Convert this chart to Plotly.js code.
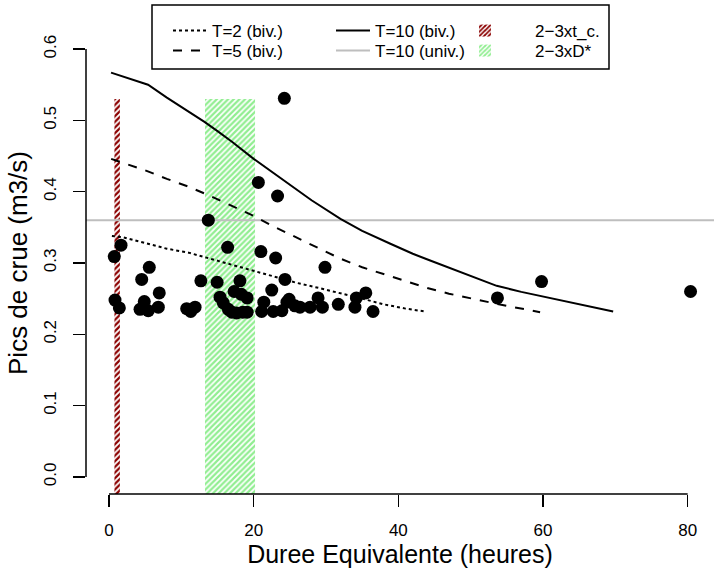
<!DOCTYPE html>
<html>
<head>
<meta charset="utf-8">
<script src="https://cdn.plot.ly/plotly-3.0.1.min.js"></script>
<style>html,body{margin:0;padding:0;background:#fff;}#chart{width:724px;height:573px;}</style>
</head>
<body>
<div id="chart"></div>
<script>
// ---- data ----
var dureeObs = [0.73,1.66,0.83,1.43,4.52,5.57,6.95,4.88,4.29,5.43,6.82,10.74,11.9,11.3,
  13.73,16.4,12.7,14.95,18.1,17.3,18.3,19.1,15.35,15.8,16.5,17.0,17.65,18.5,19.1,
  20.65,23.3,24.24,21.0,23.04,22.5,24.33,24.6,21.4,21.1,22.7,23.9,24.9,25.7,
  26.4,27.8,28.9,29.5,29.86,31.7,34.0,34.2,35.5,36.5,
  53.7,59.8,80.4];
var picsObs = [0.309,0.325,0.248,0.237,0.277,0.294,0.258,0.246,0.235,0.233,0.238,0.236,0.238,0.232,
  0.360,0.322,0.275,0.273,0.275,0.260,0.256,0.251,0.252,0.244,0.235,0.231,0.230,0.231,0.231,
  0.413,0.394,0.531,0.316,0.307,0.262,0.277,0.245,0.245,0.232,0.232,0.233,0.249,0.240,
  0.238,0.238,0.251,0.238,0.294,0.242,0.238,0.251,0.258,0.232,
  0.251,0.274,0.260];

var t2Duree = [0.4,2,5,8,11,14,17,20,23,26,29,32,35,38,41,43.7];
var t2Pics  = [0.338,0.336,0.328,0.320,0.3145,0.306,0.297,0.289,0.280,0.272,0.265,0.258,0.250,0.242,0.236,0.232];

var t5Duree = [0.3,5,8,11,14,17,20,23,26,29,32,35,38,41,44,47,50,53,56,59.6];
var t5Pics  = [0.446,0.430,0.418,0.407,0.394,0.380,0.366,0.350,0.335,0.320,0.306,0.294,0.284,0.274,0.265,0.257,0.250,0.244,0.238,0.231];

var t10Duree = [0.28,5.4,8,10,13.2,15,17,20,23,25,28,32,35,38.9,42,44.4,48,53.6,57,61,65,69.7];
var t10Pics  = [0.567,0.550,0.532,0.519,0.498,0.485,0.470,0.446,0.424,0.409,0.388,0.362,0.345,0.327,0.313,0.3035,0.290,0.268,0.2595,0.2505,0.2415,0.232];

var t10Univ = 0.36;

var zoneNames = ["2\u22123xt_c.", "2\u22123xD*"];
var zoneLeft  = [0.75, 13.27];
var zoneRight = [1.5, 20.19];
var zoneTop   = [0.53, 0.53];
var zoneColors = ["#8b0000", "#90ee90"];

var xTicks = [0,20,40,60,80];
var yTicks = [0,0.1,0.2,0.3,0.4,0.5,0.6];
var yTickText = ["0.0","0.1","0.2","0.3","0.4","0.5","0.6"];

// ---- layout constants ----
var W = 724, H = 573;
var M = {l:86, r:10, t:32, b:79};
var PW = W - M.l - M.r, PH = H - M.t - M.b;
var xRange = [-3.18, 83.64];
var yRange = [-0.024, 0.624];
var zoneBase = -0.1;
var FONT = "Liberation Sans, Arial, Helvetica, sans-serif";
function px(x){ return (x - M.l) / PW; }
function py(y){ return (H - M.b - y) / PH; }

// legend slots (pixel positions of each entry)
var legendSlots = {
  legend:  {x:168, y:13, iw:34},
  legend2: {x:168, y:33, iw:34},
  legend3: {x:331, y:13, iw:34},
  legend4: {x:331, y:33, iw:34},
  legend5: {x:435, y:13, iw:90},
  legend6: {x:435, y:33, iw:90}
};

var traces = [];
zoneNames.forEach(function(nm, i){
  traces.push({
    type:'bar', name:nm, x:[(zoneLeft[i]+zoneRight[i])/2], width:[zoneRight[i]-zoneLeft[i]],
    base:[zoneBase], y:[zoneTop[i]-zoneBase],
    marker:{color:'white', line:{width:0},
      pattern:{shape:'/', fgcolor:zoneColors[i], bgcolor:'white', size:4, solidity:0.55}},
    legend: i===0 ? 'legend5' : 'legend6', hoverinfo:'skip'
  });
});
traces.push({type:'scatter', mode:'lines', name:'T=10 (univ.)', x:[xRange[0]-5, xRange[1]+5], y:[t10Univ,t10Univ],
  line:{color:'#bebebe', width:2}, legend:'legend4'});
traces.push({type:'scatter', mode:'lines', name:'T=2 (biv.)', x:t2Duree, y:t2Pics,
  line:{color:'black', width:2, dash:'dot'}, legend:'legend'});
traces.push({type:'scatter', mode:'lines', name:'T=5 (biv.)', x:t5Duree, y:t5Pics,
  line:{color:'black', width:2, dash:'dash'}, legend:'legend2'});
traces.push({type:'scatter', mode:'lines', name:'T=10 (biv.)', x:t10Duree, y:t10Pics,
  line:{color:'black', width:2}, legend:'legend3'});
traces.push({type:'scatter', mode:'markers', name:'obs', x:dureeObs, y:picsObs, showlegend:false,
  marker:{color:'black', size:13, line:{width:0}}});

var layout = {
  width:W, height:H,
  margin:{l:M.l, r:M.r, t:M.t, b:M.b, pad:0},
  paper_bgcolor:'white', plot_bgcolor:'white',
  font:{family:FONT, size:17, color:'black'},
  showlegend:true,
  barmode:'overlay',
  xaxis:{range:xRange, tickvals:xTicks, ticks:'outside', ticklen:12, tickwidth:1.5, tickcolor:'black',
    showgrid:false, zeroline:false, showline:false, ticklabelstandoff:9,
    title:{text:'Duree Equivalente (heures)', font:{size:25}, standoff:2}},
  yaxis:{range:yRange, tickvals:yTicks, ticktext:yTickText, tickangle:-90, ticks:'outside', ticklen:12, tickwidth:1.5, tickcolor:'black',
    showgrid:false, zeroline:false, showline:false, ticklabelstandoff:10,
    title:{text:'Pics de crue (m3/s)', font:{size:26}, standoff:6}},
  shapes:[
    {type:'line', xref:'x', yref:'paper', x0:xTicks[0], x1:xTicks[xTicks.length-1], y0:0, y1:0, line:{color:'black', width:1.5}},
    {type:'line', xref:'paper', yref:'y', x0:0, x1:0, y0:yTicks[0], y1:yTicks[yTicks.length-1], line:{color:'black', width:1.5}},
    {type:'rect', xref:'paper', yref:'paper', x0:px(152), x1:px(609), y0:py(69), y1:py(5),
      line:{color:'black', width:1.5}, fillcolor:'white', layer:'above'}
  ]
};
Object.keys(legendSlots).forEach(function(k){
  var s = legendSlots[k];
  layout[k] = {x:px(s.x), xanchor:'left', y:py(s.y), yanchor:'top', orientation:'v',
    bgcolor:'rgba(0,0,0,0)', borderwidth:0, font:{size:17}, itemwidth:s.iw};
});

Plotly.newPlot('chart', traces, layout, {displayModeBar:false, staticPlot:true});
</script>
</body>
</html>
